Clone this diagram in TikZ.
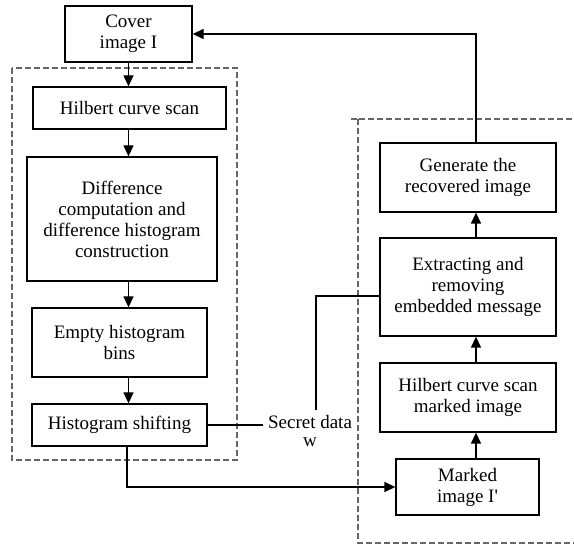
\documentclass[tikz,border=0pt]{standalone}
\usepackage{fontspec}
\setmainfont{Liberation Serif}
\usepackage{tikz}
\usetikzlibrary{arrows.meta,positioning,calc}

\begin{document}
\begin{tikzpicture}
[x=1pt,y=-1pt,
blockbox/.style={draw=black,line width=1.3pt,inner sep=0pt,align=center,font=\fontsize{19}{21}\selectfont},
groupbox/.style={draw=black!60,line width=1.1pt,dash pattern=on 6pt off 3pt},
flow/.style={line width=1.3pt,-{Triangle[length=11pt,width=10pt]}},
link/.style={line width=1.3pt}]
\useasboundingbox (0,0) rectangle (574,545);
\fill[white] (0,0) rectangle (574,545);
% embedding side
\draw[groupbox] (12,68) rectangle (237,460);
\node[blockbox,minimum width=127pt,minimum height=56pt] (cover) at (128.5,34) {Cover\\image I};
\node[blockbox,minimum width=193pt,minimum height=42pt] (hilbert) at (129.5,108) {Hilbert curve scan};
\node[blockbox,minimum width=190pt,minimum height=124pt] (diff) at (122,219) {Difference\\computation and\\difference histogram\\construction};
\node[blockbox,minimum width=175pt,minimum height=69pt] (empty) at (119.5,342.5) {Empty histogram\\bins};
\node[blockbox,minimum width=175pt,minimum height=42pt] (shift) at (119.5,425) {Histogram shifting};
\node[align=center,inner sep=5pt,font=\fontsize{19}{18}\selectfont] (secret) at (310,431) {Secret data\\w};
% extraction side
\draw[groupbox] (358,119) rectangle (590,543);
\draw[groupbox] (351,119) -- (358,119);
\node[blockbox,minimum width=176pt,minimum height=69pt] (generate) at (468,177.5) {Generate the\\recovered image};
\node[blockbox,minimum width=176pt,minimum height=98pt] (extract) at (468,287) {Extracting and\\removing\\embedded message};
\node[blockbox,minimum width=176pt,minimum height=69pt] (hmarked) at (468,397.5) {Hilbert curve scan\\marked image};
\node[blockbox,minimum width=143pt,minimum height=56pt] (marked) at (467.5,487) {Marked\\image I\textquotesingle};
\coordinate (rcol) at (476,0);
% connectors
\draw[flow] (cover.south) -- (cover.south |- hilbert.north);
\draw[flow] (hilbert.south -| cover.south) -- (diff.north -| cover.south);
\draw[flow] (diff.south -| cover.south) -- (empty.north -| cover.south);
\draw[flow] (empty.south -| cover.south) -- (shift.north -| cover.south);
\draw[link] (shift.east) -- (secret.west |- shift.east);
\draw[flow] ([xshift=7.5pt]shift.south) |- (marked.west);
\draw[link] ([xshift=6pt]secret.north) |- ([yshift=-9pt]extract.west);
\draw[flow] (marked.north -| rcol) -- (hmarked.south -| rcol);
\draw[flow] (hmarked.north -| rcol) -- (extract.south -| rcol);
\draw[flow] (extract.north -| rcol) -- (generate.south -| rcol);
\draw[flow] (generate.north -| rcol) |- (cover.east);
\end{tikzpicture}
\end{document}
